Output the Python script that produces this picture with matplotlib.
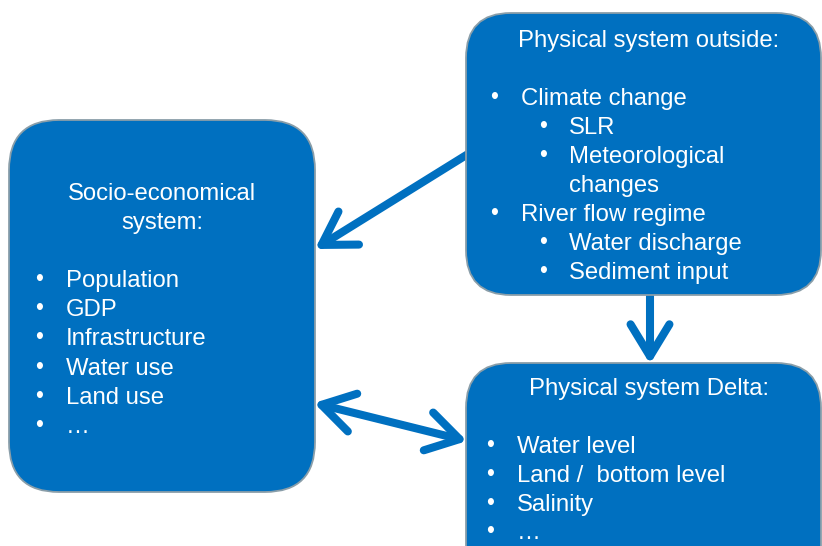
import matplotlib
matplotlib.use("Agg")
import matplotlib.pyplot as plt
from matplotlib.patches import FancyBboxPatch, FancyArrowPatch

plt.rcParams['font.family'] = ['Liberation Sans', 'DejaVu Sans']

BLUE = '#0070c0'
EDGE = '#8a9ea9'

# box texts
socio_title = ['Socio-economical', 'system:']
socio_items = ['Population', 'GDP', 'Infrastructure', 'Water use', 'Land use', '\u2026']

outside_title = 'Physical system outside:'
# (level, text): level 0 = bullet, 1 = sub bullet, 2 = continuation line
outside_items = [(0, 'Climate change'), (1, 'SLR'), (1, 'Meteorological'),
                 (2, 'changes'), (0, 'River flow regime'),
                 (1, 'Water discharge'), (1, 'Sediment input')]

delta_title = 'Physical system Delta:'
delta_items = ['Water level', 'Land /  bottom level', 'Salinity', '\u2026']

fig = plt.figure(figsize=(8.22, 5.46), dpi=100)
ax = fig.add_axes([0, 0, 1, 1])
ax.set_xlim(0, 822)
ax.set_ylim(546, 0)
ax.axis('off')

# boxes: x, y, w, h, radius
boxes = [(9, 120, 306, 372, 50),
         (466, 13, 355, 282, 45),
         (466, 363, 355, 230, 45)]
for x, y, w, h, r in boxes:
    ax.add_patch(FancyBboxPatch((x, y), w, h,
                                boxstyle=f"round,pad=0,rounding_size={r}",
                                fc=BLUE, ec=EDGE, lw=1.3, zorder=2))

# arrows
arrow_kw = dict(color=BLUE, lw=5.8, capstyle='round', joinstyle='round',
                shrinkA=0, shrinkB=0, mutation_scale=20, zorder=1)
hs = 'head_length=1.15,head_width=0.7'
ax.add_patch(FancyArrowPatch((468, 154), (315, 249), arrowstyle='->,' + hs, **arrow_kw))
ax.add_patch(FancyArrowPatch((650, 294), (650, 364), arrowstyle='->,' + hs, **arrow_kw))
ax.add_patch(FancyArrowPatch((314, 403), (467, 441), arrowstyle='<->,' + hs, **arrow_kw))

fs = 17.2
tkw = dict(color='white', va='baseline', zorder=3)
bkw = dict(color='white', fontsize=fs * 0.95, ha='center', va='baseline', zorder=3)

# socio-economical box
ax.text(162, 200, socio_title[0], ha='center', fontsize=fs, **tkw)
ax.text(162, 229, socio_title[1], ha='center', fontsize=fs, **tkw)
for i, item in enumerate(socio_items):
    yb = 287 + 29.2 * i
    ax.text(39, yb - 1, '\u2022', **bkw)
    ax.text(66, yb, item, ha='left', fontsize=fs, **tkw)

# outside box
ax.text(649, 47, outside_title, ha='center', fontsize=fs, **tkw)
for i, (lvl, item) in enumerate(outside_items):
    yb = 105 + 29 * i
    if lvl == 0:
        ax.text(494, yb - 1, '\u2022', **bkw)
        ax.text(521, yb, item, ha='left', fontsize=fs, **tkw)
    else:
        if lvl == 1:
            ax.text(543, yb - 1, '\u2022', **bkw)
        ax.text(569, yb, item, ha='left', fontsize=fs, **tkw)

# delta box
ax.text(649, 395, delta_title, ha='center', fontsize=fs, **tkw)
for i, item in enumerate(delta_items):
    yb = 453 + 28.8 * i
    ax.text(490, yb - 1, '\u2022', **bkw)
    ax.text(517, yb, item, ha='left', fontsize=fs, **tkw)

fig.savefig('out.png', dpi=100)
